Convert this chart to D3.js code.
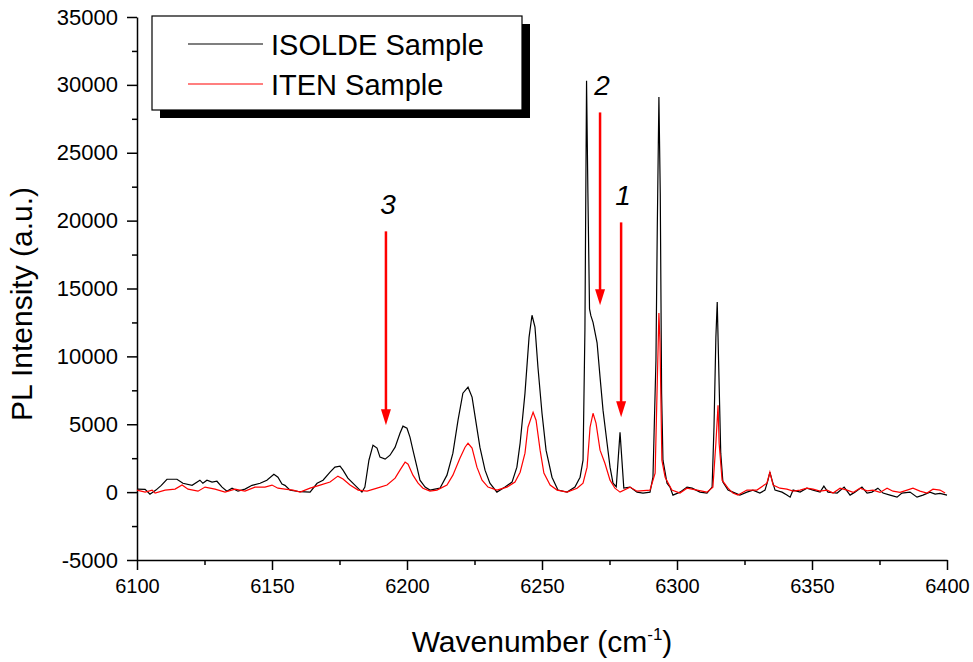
<!DOCTYPE html>
<html lang="en">
<head>
<meta charset="UTF-8">
<title>PL spectra: ISOLDE vs ITEN</title>
<script src="https://d3js.org/d3.v7.min.js"></script>
<style>
  body { margin: 0; background: #fff; font-family: "Liberation Sans", Arial, sans-serif; }
  .axis path, .axis line { stroke: #000; stroke-width: 1.5; }
  .axis text { font-size: 20px; fill: #000; font-family: "Liberation Sans", Arial, sans-serif; }
</style>
</head>
<body>
<svg width="973" height="662"></svg>
<script>
// tick values
const xTicks = [6100, 6150, 6200, 6250, 6300, 6350, 6400];
const xMinorTicks = [6125, 6175, 6225, 6275, 6325, 6375];
const yTicks = [-5000, 0, 5000, 10000, 15000, 20000, 25000, 30000, 35000];
const yMinorTicks = [-2500, 2500, 7500, 12500, 17500, 22500, 27500, 32500];

const seriesNames = ["ISOLDE Sample", "ITEN Sample"];

// [wavenumber, intensity]
const isoldeSpectrum = [
  [6100, 220], [6103, 200], [6104.8, -150], [6107, 150], [6109, 500], [6111.1, 950],
  [6114.8, 950], [6117, 650], [6120.4, 500], [6123.3, 880], [6124.4, 650], [6125.9, 880],
  [6127.8, 740], [6129.6, 800], [6131.5, 370], [6133.3, 70], [6135.2, 290], [6137.4, 70],
  [6140, 220], [6142.6, 500], [6145.6, 650], [6148.1, 880], [6150.7, 1320], [6152.2, 1100],
  [6153.7, 590], [6154.8, 500], [6156.7, 150], [6160.4, 30], [6164.1, 0], [6166.7, 650],
  [6168.9, 880], [6171.5, 1470], [6173.3, 1840], [6175.2, 1910], [6176.3, 1620], [6178.1, 1030],
  [6180.7, 520], [6183.3, 0], [6184.4, 370], [6185.9, 2350], [6187.4, 3460], [6188.9, 3240],
  [6190, 2580], [6191.9, 2430], [6193.7, 2720], [6195.6, 3310], [6197.4, 4340], [6198.5, 4860],
  [6200, 4710], [6201.1, 4050], [6202.2, 3090], [6203.7, 1840], [6204.8, 880], [6206.7, 370],
  [6208.5, 150], [6212.2, 290], [6214.8, 1250], [6217, 2870], [6218.9, 5300], [6220.7, 7290],
  [6222.6, 7730], [6224.1, 7000], [6225.6, 5080], [6227, 3310], [6228.9, 1620], [6230.7, 660],
  [6233.3, 0], [6236.3, 370], [6238.9, 740], [6240.7, 1840], [6241.9, 3610], [6243.7, 7290],
  [6245.2, 11400], [6246.3, 13030], [6247.4, 12150], [6248.5, 9200], [6250, 5810], [6251.5, 3090],
  [6253.7, 1100], [6255.9, 150], [6259.3, 0], [6262.2, 370], [6264.1, 1100], [6265.2, 2350],
  [6265.9, 12000], [6266.5, 30300], [6267, 22000], [6267.6, 13500], [6268.1, 13000], [6268.9, 12500],
  [6270.4, 11000], [6271.5, 8470], [6272.6, 6040], [6274.1, 3600], [6275.2, 1840], [6276.3, 660],
  [6277.5, 400], [6278.9, 4400], [6280.3, 300], [6282.6, 370], [6285.2, 0], [6287.4, -70],
  [6290, 0], [6291.1, 1100], [6292.2, 9700], [6292.7, 19500], [6293.3, 29100], [6293.8, 22000],
  [6294.3, 7300], [6294.8, 2350], [6296.3, 660], [6297.4, 370], [6298.5, -220], [6301.1, 0],
  [6303.7, 370], [6305.6, 290], [6308.5, 0], [6311.1, -70], [6313, 370], [6313.7, 4780],
  [6314.4, 11400], [6314.9, 14000], [6315.4, 9700], [6316.2, 2870], [6317, 740], [6318.9, 150],
  [6320.7, 0], [6323.3, -220], [6325.9, 0], [6328.1, 150], [6330.7, -70], [6332.6, 150],
  [6333.7, 880], [6334.4, 1470], [6335.2, 880], [6336.3, 150], [6338.9, 0], [6340.7, -220],
  [6341.9, -370], [6343, 150], [6345.6, 0], [6348.1, 290], [6350.4, 150], [6353, 0],
  [6354.4, 440], [6355.9, 0], [6359.3, -70], [6361.9, 370], [6364.1, -220], [6365.9, 0],
  [6368.5, 370], [6370.4, -70], [6372.2, 0], [6374.4, 290], [6376.3, -70], [6378.9, -220],
  [6381.5, -370], [6383.3, -70], [6386.3, 0], [6388.9, -370], [6391.1, -220], [6393.7, 0],
  [6395.6, -150], [6397.4, -100], [6400, -220]
];

const itenSpectrum = [
  [6100, 150], [6103, 0], [6105.6, 150], [6106.7, -70], [6110.4, 150], [6114.1, 220],
  [6116.7, 520], [6118.9, 220], [6122.6, 70], [6125.2, 370], [6128.9, 220], [6132.6, 0],
  [6136.3, 220], [6140, 70], [6143.7, 370], [6147.4, 370], [6150, 520], [6152.2, 290],
  [6154.8, 220], [6157.8, 150], [6160.4, 0], [6164.1, 290], [6167.8, 520], [6171.5, 740],
  [6174.4, 1180], [6176.3, 960], [6178.9, 520], [6181.9, 150], [6185.2, 70], [6188.9, 290],
  [6192.6, 520], [6195.6, 1030], [6197.4, 1620], [6199.3, 2210], [6200.4, 2060], [6202.2, 1250],
  [6204.1, 660], [6205.9, 290], [6208.5, 70], [6211.1, 150], [6214.8, 520], [6217, 1250],
  [6219.6, 2500], [6221.5, 3310], [6222.6, 3600], [6224.1, 3240], [6225.9, 1840], [6227.8, 880],
  [6230, 370], [6233.3, 150], [6237, 370], [6240, 740], [6241.9, 1470], [6243.7, 2870],
  [6244.8, 4780], [6246.7, 5890], [6247.8, 5300], [6249.3, 3090], [6250.7, 1400], [6253, 520],
  [6255.6, 150], [6259.3, 0], [6263, 290], [6265.2, 660], [6266.7, 1840], [6267.8, 4780],
  [6268.9, 5810], [6270, 5080], [6271.5, 3090], [6273.3, 2130], [6275.2, 880], [6277, 290],
  [6278.9, 0], [6282.6, 370], [6285.2, 70], [6290, 150], [6291.9, 1400], [6292.6, 7300],
  [6293.3, 13200], [6293.7, 11000], [6294.4, 2350], [6295.6, 1100], [6298.1, 150], [6301.1, -70],
  [6303.7, 290], [6307.4, 150], [6311.1, 0], [6313.3, 370], [6314.4, 3600], [6315.2, 6400],
  [6315.6, 3600], [6316.7, 880], [6318.9, 290], [6320.7, -70], [6322.6, -220], [6325.9, 150],
  [6329.6, 150], [6333.3, 660], [6334.4, 1470], [6335.6, 520], [6338.1, 290], [6340.7, 220],
  [6343, 70], [6345.6, 150], [6348.1, 290], [6350.4, 220], [6353, 70], [6355.6, 150],
  [6357.8, -70], [6360.4, 290], [6363, 150], [6365.2, -20], [6367.8, 290], [6370.4, 100],
  [6372.6, 150], [6375.2, -20], [6377.8, 290], [6380, 70], [6382.6, -20], [6385.2, 150],
  [6387.4, 290], [6390, 70], [6392.6, -70], [6394.8, 220], [6397.4, 150], [6399.3, -70]
];

// arrows marking the lines: label, wavenumber, arrow top, arrow tip
const arrowLabels = ["1", "2", "3"];
const arrowWavenumbers = [6279.3, 6271.5, 6192.2];
const arrowTops = [19870, 27970, 19210];
const arrowTips = [5520, 13760, 4930];

const svg = d3.select("svg");
const plotLeft = 137, plotRight = 947, plotTop = 17, plotBottom = 560;

const x = d3.scaleLinear().domain([6100, 6400]).range([plotLeft, plotRight]);
const y = d3.scaleLinear().domain([-5000, 35000]).range([plotBottom, plotTop]);

// axes
svg.append("g").attr("class", "axis")
  .attr("transform", `translate(0,${plotBottom})`)
  .call(d3.axisBottom(x).tickValues(xTicks).tickSize(10).tickSizeOuter(0).tickPadding(9).tickFormat(d => String(d)));
svg.append("g").attr("class", "axis")
  .attr("transform", `translate(0,${plotBottom})`)
  .call(d3.axisBottom(x).tickValues(xMinorTicks).tickSize(5).tickFormat(""))
  .select(".domain").remove();

svg.append("g").attr("class", "axis")
  .attr("transform", `translate(${plotLeft},0)`)
  .call(d3.axisLeft(y).tickValues(yTicks).tickSize(10).tickSizeOuter(0).tickPadding(9).tickFormat(d => String(d)))
  .selectAll("text").style("font-size", "22px");
svg.append("g").attr("class", "axis")
  .attr("transform", `translate(${plotLeft},0)`)
  .call(d3.axisLeft(y).tickValues(yMinorTicks).tickSize(5).tickFormat(""))
  .select(".domain").remove();

// axis titles
svg.append("text")
  .attr("transform", `translate(32,304) rotate(-90)`)
  .attr("text-anchor", "middle")
  .style("font-size", "30px")
  .text("PL Intensity (a.u.)");

const xt = svg.append("text")
  .attr("x", (plotLeft + plotRight) / 2)
  .attr("y", 652)
  .attr("text-anchor", "middle")
  .style("font-size", "30px");
xt.append("tspan").text("Wavenumber (cm");
xt.append("tspan").attr("dy", -12).style("font-size", "17px").text("-1");
xt.append("tspan").attr("dy", 12).text(")");

// spectra
const line = d3.line().x(d => x(d[0])).y(d => y(d[1]));
svg.append("path").datum(isoldeSpectrum)
  .attr("fill", "none").attr("stroke", "#000").attr("stroke-width", 1.2).attr("d", line);
svg.append("path").datum(itenSpectrum)
  .attr("fill", "none").attr("stroke", "#ff0000").attr("stroke-width", 1.2).attr("d", line);

// arrows
arrowLabels.forEach((lab, i) => {
  const ax = x(arrowWavenumbers[i]);
  const y0 = y(arrowTops[i]), y1 = y(arrowTips[i]);
  svg.append("line")
    .attr("x1", ax).attr("x2", ax).attr("y1", y0).attr("y2", y1 - 14)
    .attr("stroke", "#ff0000").attr("stroke-width", 2.5);
  svg.append("path")
    .attr("d", `M${ax - 5},${y1 - 16}L${ax + 5},${y1 - 16}L${ax},${y1}Z`)
    .attr("fill", "#ff0000");
  svg.append("text")
    .attr("x", ax + 2).attr("y", y0 - 17)
    .attr("text-anchor", "middle")
    .style("font-size", "28px").style("font-style", "italic")
    .text(lab);
});

// legend
const lg = svg.append("g");
lg.append("rect").attr("x", 160).attr("y", 24).attr("width", 370).attr("height", 94).attr("fill", "#000");
lg.append("rect").attr("x", 152).attr("y", 16).attr("width", 370).attr("height", 94)
  .attr("fill", "#fff").attr("stroke", "#000").attr("stroke-width", 1.2);
const legendColors = ["#000", "#ff0000"];
seriesNames.forEach((name, i) => {
  const ly = 44 + i * 40;
  lg.append("line").attr("x1", 188).attr("x2", 263).attr("y1", ly).attr("y2", ly)
    .attr("stroke", legendColors[i]).attr("stroke-width", 1.1);
  lg.append("text").attr("x", 271).attr("y", ly + 11)
    .style("font-size", "29px").text(name);
});
</script>
</body>
</html>
